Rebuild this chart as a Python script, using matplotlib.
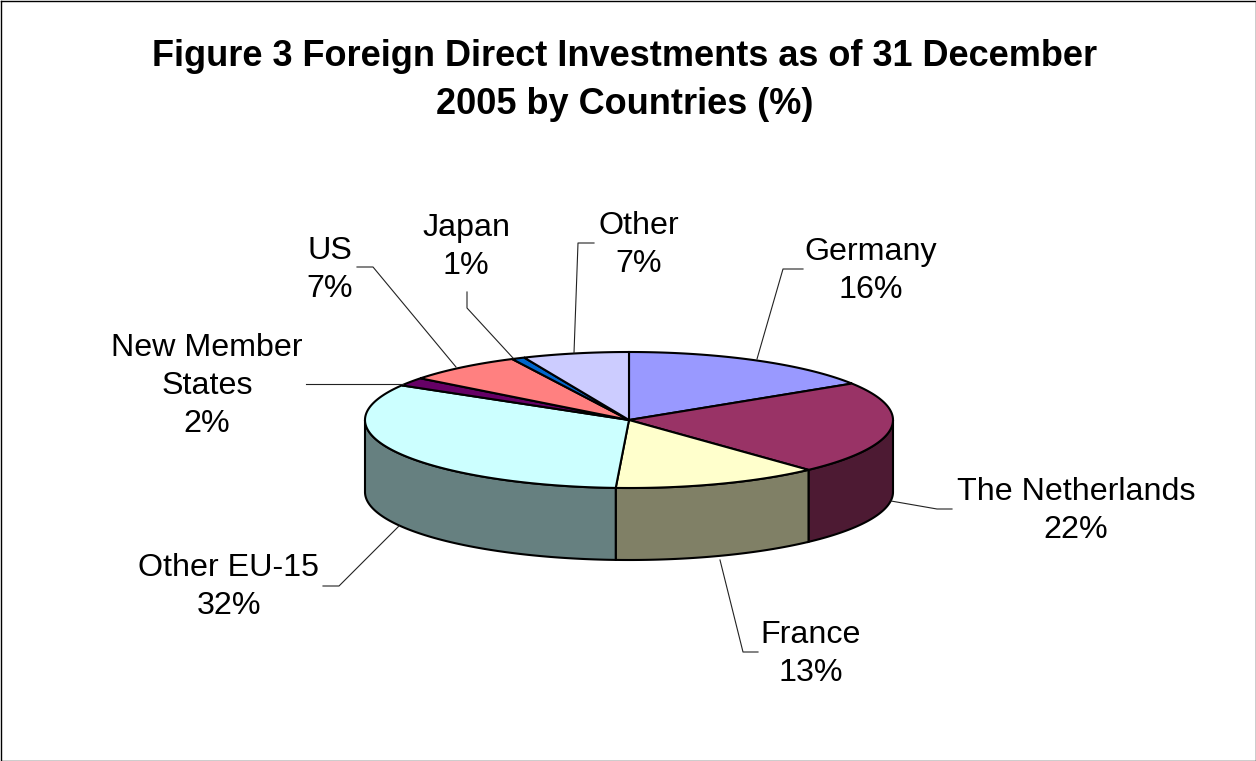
import numpy as np
import matplotlib
matplotlib.use("Agg")
import matplotlib.pyplot as plt

plt.rcParams['font.family'] = ['Liberation Sans', 'DejaVu Sans']

labels = ["Germany", "The Netherlands", "France", "Other EU-15", "New Member\nStates", "US", "Japan", "Other"]
shown = ["16%", "22%", "13%", "32%", "2%", "7%", "1%", "7%"]
values = [16, 22.1, 12.7, 32.7, 2, 7.2, 0.8, 6.5]
colors = ["#9999FF", "#993366", "#FFFFCC", "#CCFFFF", "#660066", "#FF8080", "#0066CC", "#CCCCFF"]
sides = ["#4D4D80", "#4D1A33", "#808066", "#668080", "#330033", "#804040", "#003366", "#666680"]

# where the labels sit and the leader lines, in picture pixels
label_pos = [(871, 271), (1076, 511), (811, 654), (229, 587), (207, 386), (330, 270), (466, 247), (639, 245)]
leaders = [
    [(803, 269), (783, 269), (757, 359)],
    [(952, 509), (937, 509), (891, 501)],
    [(758, 652), (743, 652), (720, 560)],
    [(323, 586), (339, 586), (399, 526)],
    [(306, 384), (403, 384)],
    [(357, 267), (373, 267), (456, 367)],
    [(467, 292), (467, 308), (513, 358)],
    [(594, 243), (578, 243), (574, 353)],
]

cx, cy, rx, ry, depth = 629, 420, 264, 68, 72


def rim(a, b):
    t = np.linspace(a, b, max(int(abs(b - a) * 2), 2))
    r = np.radians(t)
    return cx + rx * np.sin(r), cy - ry * np.cos(r)


fig = plt.figure(figsize=(12.56, 7.61), dpi=100)
ax = fig.add_axes([0, 0, 1, 1])
ax.set_xlim(0, 1256)
ax.set_ylim(761, 0)
ax.axis("off")

# frame
ax.plot([0.5, 1255.5, 1255.5, 0.5, 0.5], [0.5, 0.5, 760.5, 760.5, 0.5], color="black", lw=1)

edges = np.concatenate([[0], np.cumsum(values)]) / sum(values) * 360

# side walls, only the front half (90..270 degrees round from the top)
for i in range(len(values)):
    a = max(edges[i], 90)
    b = min(edges[i + 1], 270)
    if b <= a:
        continue
    x, y = rim(a, b)
    ax.fill(np.r_[x, x[::-1]], np.r_[y, y[::-1] + depth], facecolor=sides[i], edgecolor="black", lw=1.5, zorder=2)

# top face
for i in range(len(values)):
    x, y = rim(edges[i], edges[i + 1])
    ax.fill(np.r_[cx, x], np.r_[cy, y], facecolor=colors[i], edgecolor="black", lw=1.5, zorder=3)

for line in leaders:
    ax.plot(*zip(*line), color="#222222", lw=0.8, zorder=4)

for name, pct, (lx, ly) in zip(labels, shown, label_pos):
    ax.text(lx, ly, name + "\n" + pct, ha="center", va="center", fontsize=23.2, linespacing=1.33, zorder=5)

ax.text(625, 80.5, "Figure 3 Foreign Direct Investments as of 31 December\n2005 by Countries (%)",
        ha="center", va="center", fontsize=26, fontweight="bold", linespacing=1.46)

fig.savefig("out.png", dpi=100)
